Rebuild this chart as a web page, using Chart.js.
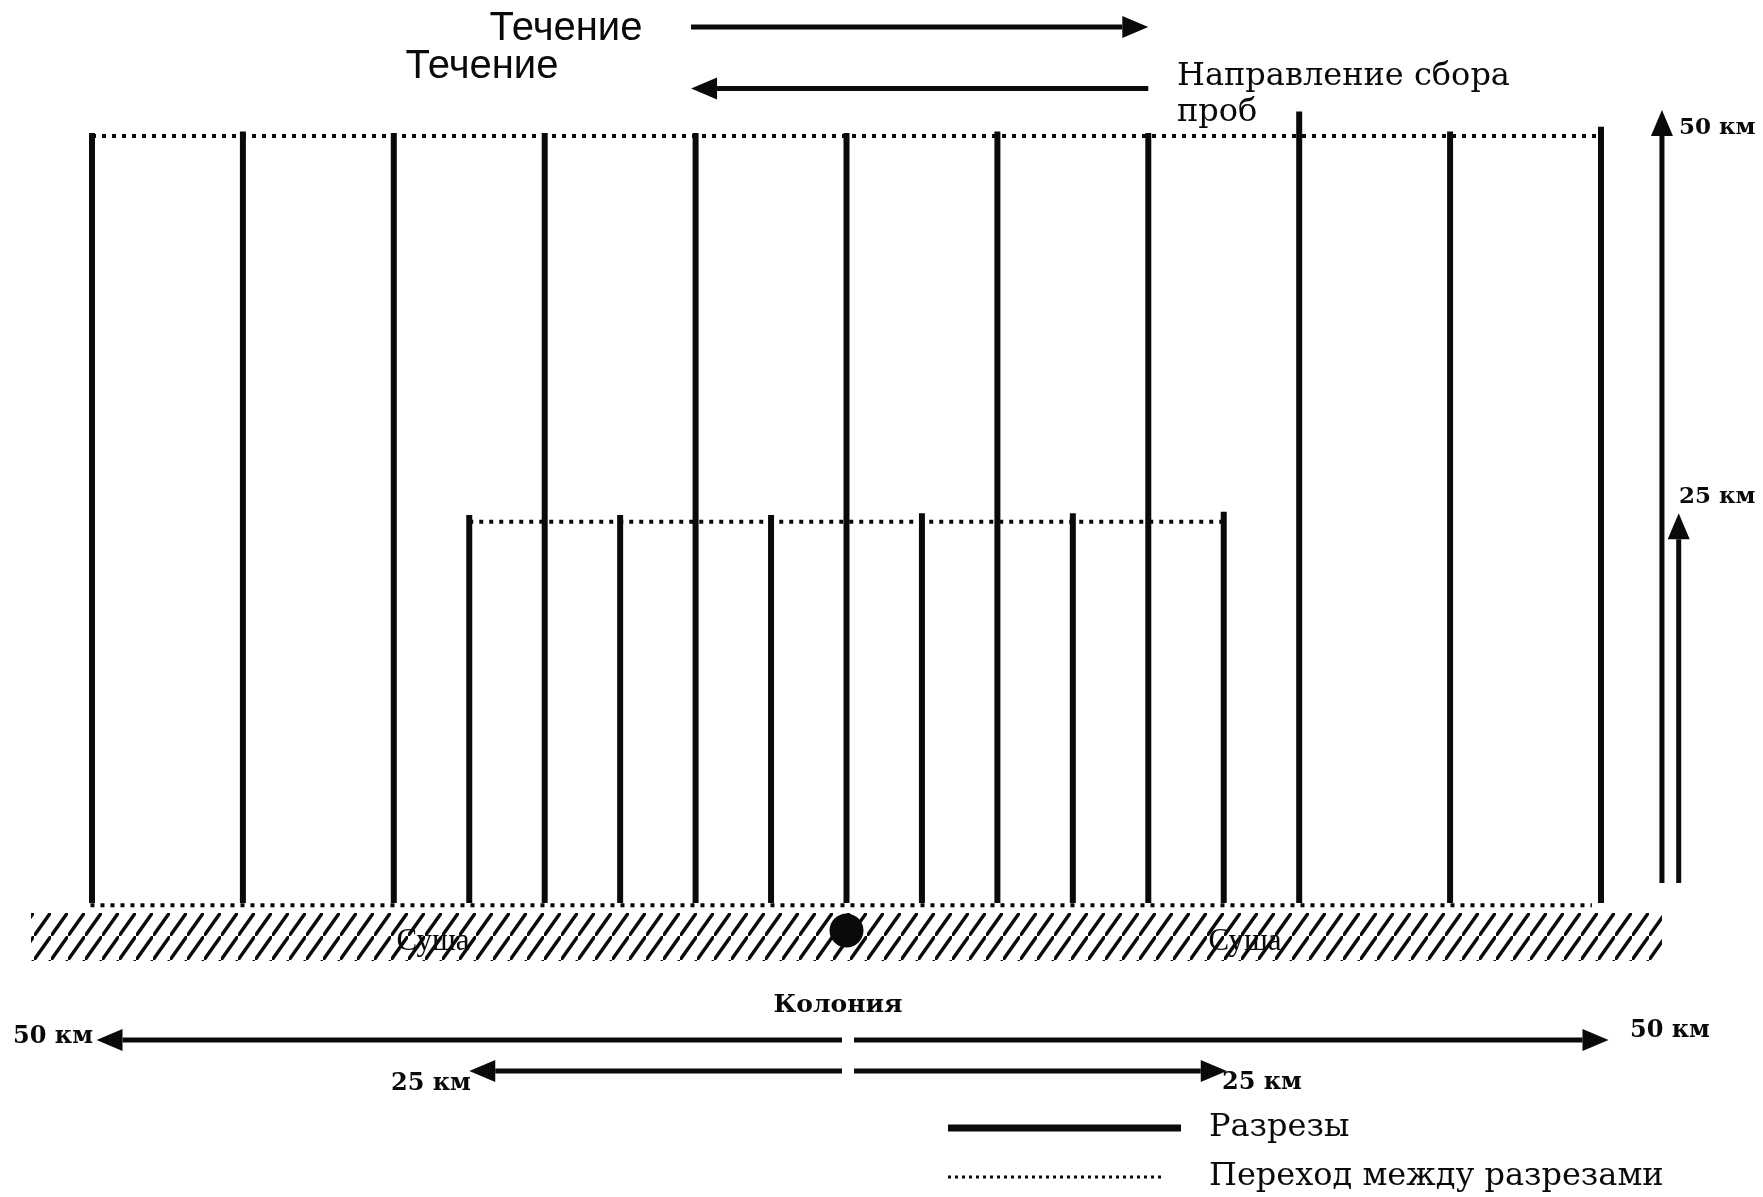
<!DOCTYPE html>
<html lang="ru">
<head>
<meta charset="utf-8">
<title>Схема разрезов</title>
<script src="https://cdn.jsdelivr.net/npm/chart.js@4.4.1/dist/chart.umd.min.js"></script>
<style>
	html, body { margin: 0; padding: 0; background: #fff; }
	#wrap { position: relative; width: 1763px; height: 1197px; }
</style>
</head>
<body>
<div id="wrap"><canvas id="schemeChart"></canvas></div>
<script>
// positions along the shore, km from the colony
const longTransects = [-50, -40, -30, -20, -10, 0, 10, 20, 30, 40, 50];
// how far each long transect reaches offshore, km
const longLengths = [50.2, 50.3, 50.2, 50.2, 50.2, 50.2, 50.3, 50.2, 51.6, 50.3, 50.6];
const shortTransects = [-25, -15, -5, 5, 15, 25];
const shortLengths = [25.3, 25.3, 25.3, 25.4, 25.4, 25.5];
const outerLevel = 50;
const innerLevel = 25;
const colonyAt = 0;
const scaleMarks = [50, 25];
const legendLabels = ['Разрезы', 'Переход между разрезами'];

document.addEventListener('DOMContentLoaded', function () {
	const ink = '#0a0a0a';

	function hatch() {
		const w = 17, h = 24;
		const c = document.createElement('canvas');
		c.width = w; c.height = h;
		const g = c.getContext('2d');
		g.strokeStyle = ink;
		g.lineWidth = 3.4;
		[[0, 0], [-w, h], [w, -h]].forEach(([dx, dy]) => {
			g.beginPath();
			g.moveTo(dx, h + dy);
			g.lineTo(w + dx, dy);
			g.stroke();
		});
		return g.createPattern(c, 'repeat');
	}

	const datasets = [];

	// transects
	longTransects.forEach((x, i) => {
		datasets.push({ data: [{ x: x, y: 0 }, { x: x, y: longLengths[i] }], borderColor: ink, borderWidth: 6, order: 2 });
	});
	shortTransects.forEach((x, i) => {
		datasets.push({ data: [{ x: x, y: 0 }, { x: x, y: shortLengths[i] }], borderColor: ink, borderWidth: 6, order: 2 });
	});

	// transitions between transects
	const dotted = { borderColor: ink, borderWidth: 4, borderDash: [4, 6], order: 3 };
	datasets.push(Object.assign({ data: [{ x: longTransects[0], y: outerLevel }, { x: longTransects[longTransects.length - 1], y: outerLevel }] }, dotted));
	datasets.push(Object.assign({ data: [{ x: shortTransects[0], y: innerLevel - 0.15 }, { x: shortTransects[shortTransects.length - 1], y: innerLevel - 0.15 }] }, dotted));
	datasets.push(Object.assign({ data: [{ x: longTransects[0] - 0.1, y: -0.15 }, { x: longTransects[longTransects.length - 1] - 0.6, y: -0.15 }] }, dotted));

	// land strip
	datasets.push({
		data: [{ x: -54.05, y: -0.65 }, { x: 54.04, y: -0.65 }],
		borderWidth: 0,
		backgroundColor: hatch(),
		fill: { value: -3.78 },
		order: 10
	});

	// colony
	datasets.push({
		data: [{ x: colonyAt, y: -1.8 }],
		showLine: false,
		pointRadius: 17,
		pointBackgroundColor: ink,
		pointBorderWidth: 0,
		order: 0
	});

	const arrows = [
		{ from: [-10.3, 57.1], to: [20.0, 57.1] },
		{ from: [20.0, 53.1], to: [-10.3, 53.1] },
		{ from: [54.04, 1.3], to: [54.04, scaleMarks[0] + 1.7] },
		{ from: [55.15, 1.3], to: [55.15, scaleMarks[1] + 0.4] },
		{ from: [-0.3, -8.93], to: [-scaleMarks[0] + 0.3, -8.93] },
		{ from: [0.5, -8.93], to: [scaleMarks[0] + 0.5, -8.93] },
		{ from: [-0.3, -10.95], to: [-scaleMarks[1], -10.95] },
		{ from: [0.5, -10.95], to: [scaleMarks[1] + 0.2, -10.95] }
	];

	const serif = '"DejaVu Serif", serif';
	const narrow = '"Liberation Sans Narrow", "Liberation Sans", sans-serif';
	const labels = [
		{ t: 'Течение', x: 566, y: 29, font: '40px ' + narrow, align: 'center' },
		{ t: 'Течение', x: 482, y: 67, font: '40px ' + narrow, align: 'center' },
		{ t: 'Направление сбора', x: 1177, y: 77, font: '32px ' + serif, align: 'left' },
		{ t: 'проб', x: 1177, y: 113, font: '32px ' + serif, align: 'left' },
		{ t: scaleMarks[0] + ' км', x: 1679, y: 128, font: 'bold 23px ' + serif, align: 'left' },
		{ t: scaleMarks[1] + ' км', x: 1679, y: 497, font: 'bold 23px ' + serif, align: 'left' },
		{ t: 'Суша', x: 433, y: 942, font: '31px "Liberation Serif", serif', align: 'center' },
		{ t: 'Суша', x: 1245, y: 942, font: '31px "Liberation Serif", serif', align: 'center' },
		{ t: 'Колония', x: 838, y: 1005, font: 'bold 25px ' + serif, align: 'center' },
		{ t: scaleMarks[0] + ' км', x: 93, y: 1037, font: 'bold 24px ' + serif, align: 'right' },
		{ t: scaleMarks[0] + ' км', x: 1630, y: 1031, font: 'bold 24px ' + serif, align: 'left' },
		{ t: scaleMarks[1] + ' км', x: 431, y: 1084, font: 'bold 24px ' + serif, align: 'center' },
		{ t: scaleMarks[1] + ' км', x: 1222, y: 1083, font: 'bold 24px ' + serif, align: 'left' },
		{ t: legendLabels[0], x: 1209, y: 1128, font: '32px ' + serif, align: 'left' },
		{ t: legendLabels[1], x: 1209, y: 1177, font: '32px ' + serif, align: 'left' }
	];

	const annotate = {
		id: 'annotate',
		afterDatasetsDraw(chart) {
			const ctx = chart.ctx;
			const sx = chart.scales.x, sy = chart.scales.y;
			ctx.save();
			ctx.strokeStyle = ink;
			ctx.fillStyle = ink;

			arrows.forEach(a => {
				const x1 = sx.getPixelForValue(a.from[0]), y1 = sy.getPixelForValue(a.from[1]);
				const x2 = sx.getPixelForValue(a.to[0]), y2 = sy.getPixelForValue(a.to[1]);
				const ang = Math.atan2(y2 - y1, x2 - x1);
				const len = 26, half = 11;
				const bx = x2 - Math.cos(ang) * len, by = y2 - Math.sin(ang) * len;
				ctx.lineWidth = 5;
				ctx.beginPath();
				ctx.moveTo(x1, y1);
				ctx.lineTo(bx, by);
				ctx.stroke();
				ctx.beginPath();
				ctx.moveTo(x2, y2);
				ctx.lineTo(bx + Math.sin(ang) * half, by - Math.cos(ang) * half);
				ctx.lineTo(bx - Math.sin(ang) * half, by + Math.cos(ang) * half);
				ctx.closePath();
				ctx.fill();
			});

			// legend samples
			ctx.lineWidth = 7;
			ctx.beginPath();
			ctx.moveTo(948, 1128);
			ctx.lineTo(1181, 1128);
			ctx.stroke();
			ctx.lineWidth = 3;
			ctx.setLineDash([3, 4]);
			ctx.beginPath();
			ctx.moveTo(948, 1177);
			ctx.lineTo(1162, 1177);
			ctx.stroke();
			ctx.setLineDash([]);

			ctx.textBaseline = 'middle';
			labels.forEach(l => {
				ctx.font = l.font;
				ctx.textAlign = l.align;
				ctx.fillText(l.t, l.x, l.y);
			});
			ctx.restore();
		}
	};

	// the colony point (radius 17) makes Chart.js keep 17px free round the plot area,
	// so the bounds below are set for an area of 17..1746 x 17..1180
	new Chart(document.getElementById('schemeChart'), {
		type: 'scatter',
		data: { datasets: datasets },
		options: {
			responsive: true,
			maintainAspectRatio: false,
			animation: false,
			events: [],
			layout: { padding: 0 },
			showLine: true,
			elements: { point: { radius: 0 }, line: { borderCapStyle: 'butt' } },
			datasets: { scatter: { clip: false } },
			scales: {
				x: { type: 'linear', min: -54.97, max: 59.61, display: false },
				y: { type: 'linear', min: -18.06, max: 57.76, display: false }
			},
			plugins: {
				legend: { display: false },
				tooltip: { enabled: false }
			}
		},
		plugins: [annotate]
	});
});
</script>
</body>
</html>
